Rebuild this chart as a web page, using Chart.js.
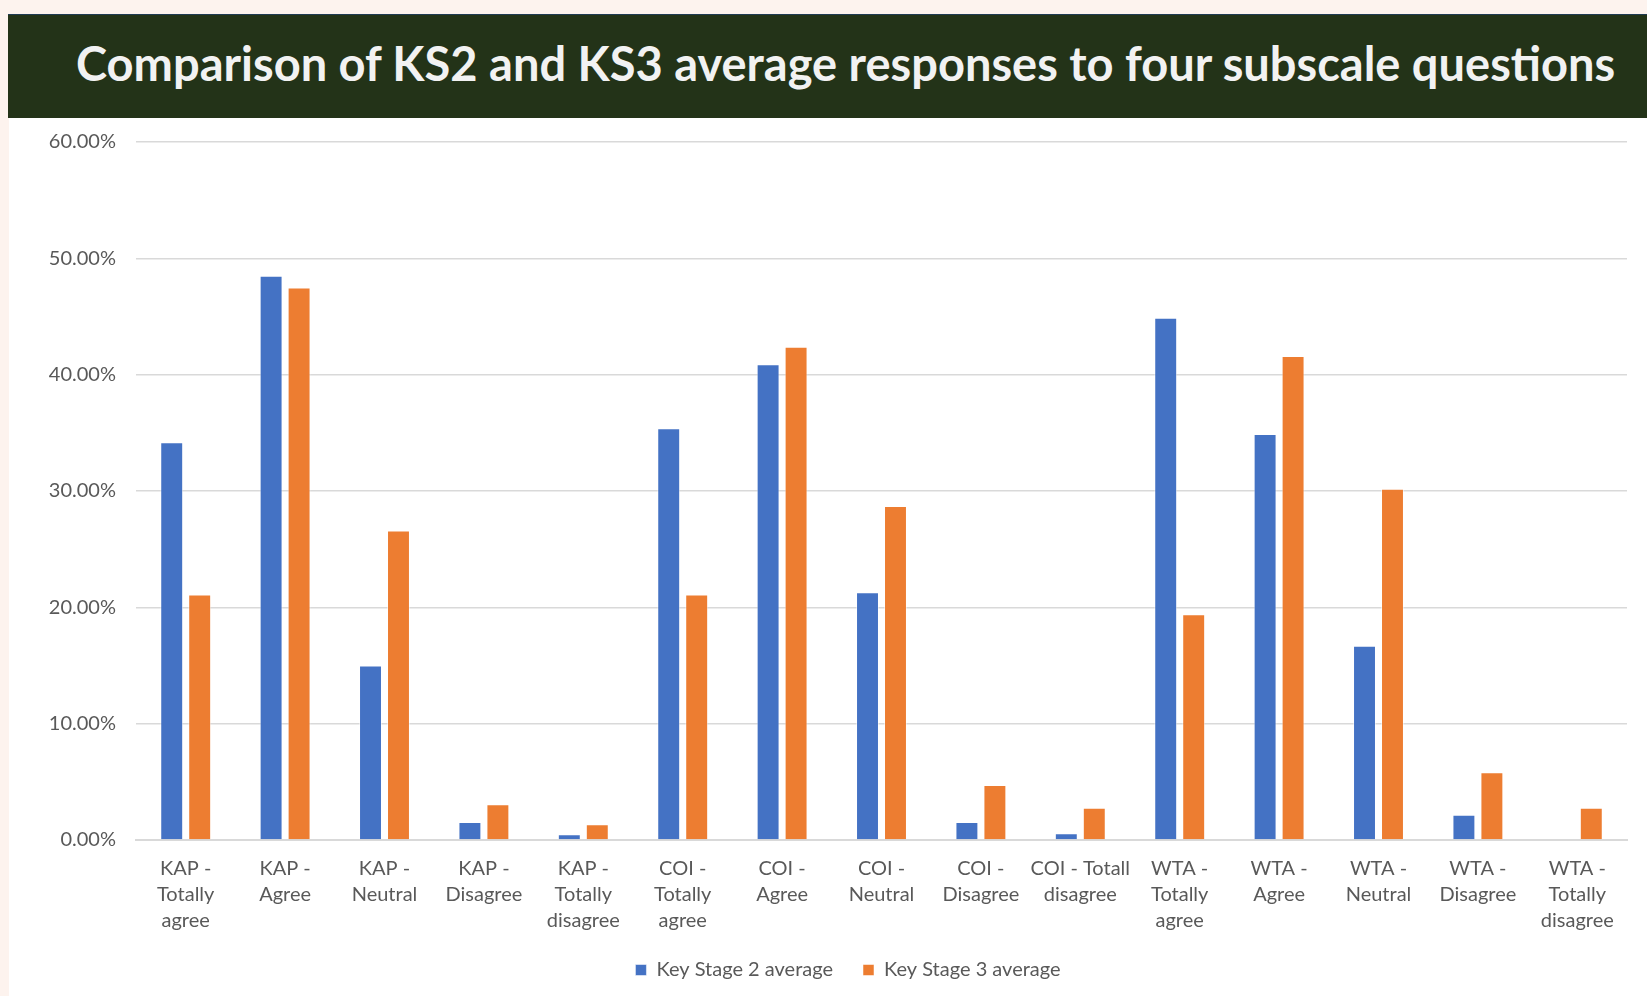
<!DOCTYPE html>
<html>
<head>
<meta charset="utf-8">
<script src="https://cdn.jsdelivr.net/npm/chart.js@4.4.0/dist/chart.umd.min.js"></script>
<style>
    html, body { margin: 0; padding: 0; }
    body { width: 1647px; height: 996px; background: #fdf3ee; position: relative; overflow: hidden; }
    .title-bar {
        position: absolute; left: 8px; top: 14px; width: 1639px; height: 104px;
        background: #233318; border-top: 1px solid #1f3b52; box-sizing: border-box;
        color: #f2f2f2; font-family: 'Lato', sans-serif; font-weight: bold;
        font-size: 47px; line-height: 96px; padding-left: 68px; white-space: nowrap;
    }
    .chart-box { position: absolute; left: 9px; top: 118px; width: 1638px; height: 878px; background: #fff; }
</style>
</head>
<body>
<div class="title-bar">Comparison of KS2 and KS3 average responses to four subscale questions</div>
<div class="chart-box"><canvas id="subscaleChart"></canvas></div>
<script>
// categories (x axis) and series values in percent
const categories = [
    ['KAP -', 'Totally', 'agree'],
    ['KAP -', 'Agree'],
    ['KAP -', 'Neutral'],
    ['KAP -', 'Disagree'],
    ['KAP -', 'Totally', 'disagree'],
    ['COI -', 'Totally', 'agree'],
    ['COI -', 'Agree'],
    ['COI -', 'Neutral'],
    ['COI -', 'Disagree'],
    ['COI - Totall', 'disagree'],
    ['WTA -', 'Totally', 'agree'],
    ['WTA -', 'Agree'],
    ['WTA -', 'Neutral'],
    ['WTA -', 'Disagree'],
    ['WTA -', 'Totally', 'disagree']
];
const ks2Average = [34.2, 48.5, 15.0, 1.55, 0.49, 35.4, 40.9, 21.3, 1.55, 0.58, 44.9, 34.9, 16.7, 2.18, 0];
const ks3Average = [21.1, 47.5, 26.6, 3.07, 1.35, 21.1, 42.4, 28.7, 4.73, 2.78, 19.4, 41.6, 30.2, 5.83, 2.78];
const yTicks = [0, 10, 20, 30, 40, 50, 60];

// legend sits right of the canvas centre and close to the bottom in the original
const legendShift = {
    id: 'legendShift',
    afterLayout: function(chart) {
        const lg = chart.legend;
        if (lg) {
            lg.left += 30;
            lg.right += 30;
            const dy = 812 - lg.top;
            lg.top += dy;
            lg.bottom += dy;
        }
    }
};

const ctx = document.getElementById('subscaleChart').getContext('2d');
new Chart(ctx, {
    type: 'bar',
    data: {
        labels: categories,
        datasets: [
            {
                label: 'Key Stage 2 average',
                data: ks2Average,
                backgroundColor: '#4472c4',
                borderColor: 'rgba(255,255,255,0.5)',
                borderWidth: 1,
                categoryPercentage: 0.563,
                barPercentage: 0.82
            },
            {
                label: 'Key Stage 3 average',
                data: ks3Average,
                backgroundColor: '#ed7d31',
                borderColor: 'rgba(255,255,255,0.5)',
                borderWidth: 1,
                categoryPercentage: 0.563,
                barPercentage: 0.82
            }
        ]
    },
    options: {
        responsive: true,
        maintainAspectRatio: false,
        animation: false,
        layout: {
            padding: { left: 0, right: 20, top: 0, bottom: -6 }
        },
        plugins: {
            legend: {
                position: 'bottom',
                labels: {
                    boxWidth: 11,
                    boxHeight: 11,
                    padding: 30,
                    color: '#595959',
                    font: { family: 'Lato', size: 20 }
                }
            },
            tooltip: { enabled: false }
        },
        scales: {
            y: {
                min: yTicks[0],
                max: yTicks[yTicks.length - 1],
                afterBuildTicks: function(scale) {
                    scale.ticks = yTicks.map(v => ({ value: v }));
                },
                afterFit: function(scale) {
                    scale.width = 127;
                    scale.paddingTop = 24;
                },
                border: { display: false },
                grid: {
                    color: '#d9d9d9',
                    lineWidth: 1.5,
                    drawTicks: false
                },
                ticks: {
                    padding: 20,
                    color: '#595959',
                    font: { family: 'Lato', size: 20 },
                    callback: function(value) {
                        return value.toFixed(2) + '%';
                    }
                }
            },
            x: {
                border: { color: '#d9d9d9', width: 2 },
                grid: { display: false },
                ticks: {
                    padding: 8,
                    maxRotation: 0,
                    autoSkip: false,
                    color: '#595959',
                    font: { family: 'Lato', size: 20, lineHeight: 1.3 }
                }
            }
        }
    },
    plugins: [legendShift]
});
</script>
</body>
</html>
